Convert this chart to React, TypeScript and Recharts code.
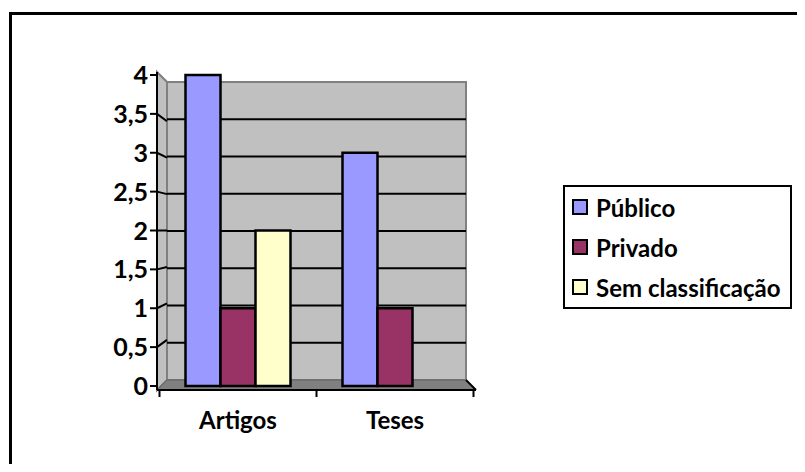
import React from 'react';
import { BarChart, Bar, XAxis, YAxis, CartesianGrid, Legend } from 'recharts';

// Values
const categories = ['Artigos', 'Teses'];
const publico = [4, 3];
const privado = [1, 1];
const semClassificacao = [2, 0];
const yTicks = [0, 0.5, 1, 1.5, 2, 2.5, 3, 3.5, 4];
const gridTicks = [0.5, 1, 1.5, 2, 2.5, 3, 3.5];
// fractions of the category axis: band edges get tick marks, band centres carry the labels
const xTicks = [0, 0.25, 0.5, 0.75, 1];
const seriesOrder = ['publico', 'privado', 'sem'];

const data = categories.map((name, i) => ({
  name,
  publico: publico[i],
  privado: privado[i],
  sem: semClassificacao[i],
}));

const W = 789;
const H = 456;

// 3D box corners (chart coords): front plane = axes, back plane = wall
const FRONT_LEFT = 149;
const FRONT_RIGHT = 468;
const FRONT_TOP = 64;
const FRONT_BOTTOM = 382;
const WALL_LEFT = 159;
const WALL_RIGHT = 458;
const BACK_TOP = 74;
const BACK_BOTTOM = 372;

const FONT = 'Lato, "Open Sans", sans-serif';

const fmt = (v: number) => String(v).replace('.', ',');

function YTick(props: any) {
  const { x, y, payload } = props;
  const v = payload.value;
  const backY =
    BACK_BOTTOM -
    ((FRONT_BOTTOM - y) * (BACK_BOTTOM - BACK_TOP)) / (FRONT_BOTTOM - FRONT_TOP);
  return (
    <g>
      {v > 0 && v < 4 && (
        <line x1={FRONT_LEFT} y1={y} x2={WALL_LEFT} y2={backY} stroke="#000" strokeWidth={2} />
      )}
      <text
        x={x}
        y={y}
        dy="0.36em"
        textAnchor="end"
        fontFamily={FONT}
        fontWeight={700}
        fontSize={25}
        fill="#000"
      >
        {fmt(v)}
      </text>
    </g>
  );
}

function XTick(props: any) {
  const { x, y, payload } = props;
  const pos = payload.value * categories.length;
  if (Number.isInteger(pos)) {
    return <line x1={x} y1={y} x2={x} y2={y + 7} stroke="#000" strokeWidth={2} />;
  }
  return (
    <text
      x={x}
      y={y + 39}
      textAnchor="middle"
      fontFamily={FONT}
      fontWeight={700}
      fontSize={24}
      fill="#000"
    >
      {categories[Math.floor(pos)]}
    </text>
  );
}

function LegendBox(props: any) {
  const { payload } = props;
  return (
    <div
      style={{
        border: '2px solid #000',
        background: '#fff',
        padding: '0 9px 0 7px',
        fontFamily: FONT,
        fontWeight: 700,
        fontSize: 24,
        color: '#000',
      }}
    >
      {(payload || []).map((entry: any) => (
        <div key={entry.value} style={{ height: 40, display: 'flex', alignItems: 'center' }}>
          <span
            style={{
              display: 'inline-block',
              width: 16,
              height: 16,
              boxSizing: 'border-box',
              border: '2px solid #000',
              background: entry.color,
              marginRight: 8,
            }}
          />
          <span style={{ whiteSpace: 'nowrap' }}>{entry.value}</span>
        </div>
      ))}
    </div>
  );
}

function Walls() {
  return (
    <svg width={W} height={H} style={{ position: 'absolute', left: 0, top: 0 }}>
      <rect
        x={WALL_LEFT}
        y={BACK_TOP}
        width={WALL_RIGHT - WALL_LEFT}
        height={BACK_BOTTOM - BACK_TOP}
        fill="#c0c0c0"
        stroke="#808080"
        strokeWidth={2}
      />
      <polygon
        points={`${FRONT_LEFT},${FRONT_TOP} ${WALL_LEFT},${BACK_TOP} ${WALL_LEFT},${BACK_BOTTOM} ${FRONT_LEFT},${FRONT_BOTTOM}`}
        fill="#c0c0c0"
        stroke="#808080"
        strokeWidth={2}
      />
      <polygon
        points={`${FRONT_LEFT},${FRONT_BOTTOM} ${WALL_LEFT},${BACK_BOTTOM} ${WALL_RIGHT},${BACK_BOTTOM} ${FRONT_RIGHT},${FRONT_BOTTOM}`}
        fill="#808080"
        stroke="#606060"
        strokeWidth={1}
      />
      <line
        x1={WALL_RIGHT}
        y1={BACK_BOTTOM}
        x2={FRONT_RIGHT}
        y2={FRONT_BOTTOM}
        stroke="#000"
        strokeWidth={2}
      />
    </svg>
  );
}

export default function App() {
  return (
    <div style={{ position: 'relative', width: W, height: H, overflow: 'hidden', background: '#fff' }}>
      <div
        style={{
          position: 'absolute',
          left: 1,
          top: 4,
          width: 900,
          height: 600,
          border: '3px solid #000',
        }}
      />
      <Walls />
      <div style={{ position: 'absolute', left: 0, top: 0 }}>
        <BarChart
          width={W}
          height={H}
          data={data}
          margin={{ top: FRONT_TOP, right: W - FRONT_RIGHT, bottom: H - FRONT_BOTTOM - 41, left: 0 }}
          barCategoryGap={26}
          barGap={0}
        >
          <CartesianGrid
            yAxisId="back"
            xAxisId="cat"
            vertical={false}
            syncWithTicks
            stroke="#000"
            strokeWidth={2}
            fill="none"
            x={WALL_LEFT}
            width={WALL_RIGHT - WALL_LEFT}
          />
          <XAxis
            xAxisId="cat"
            dataKey="name"
            hide
            height={0}
            padding={{ left: 2.5, right: 2.5 }}
          />
          <XAxis
            xAxisId="edges"
            type="number"
            domain={[0, 1]}
            allowDataOverflow
            ticks={xTicks}
            interval={0}
            padding={{ left: 2.5, right: 2.5 }}
            height={41}
            tickSize={0}
            tickMargin={0}
            tickLine={false}
            axisLine={{ stroke: '#000', strokeWidth: 2 }}
            tick={<XTick />}
          />
          <YAxis
            yAxisId="bars"
            type="number"
            domain={[-0.0514, 4.0386]}
            allowDataOverflow
            ticks={yTicks}
            interval={0}
            width={FRONT_LEFT}
            tickSize={7}
            tickMargin={2}
            axisLine={{ stroke: '#000', strokeWidth: 2 }}
            tickLine={{ stroke: '#000', strokeWidth: 2 }}
            tick={<YTick />}
          />
          <YAxis
            yAxisId="back"
            type="number"
            hide
            width={0}
            domain={[-0.1342, 4.1342]}
            ticks={gridTicks}
            allowDataOverflow
          />
          <Legend
            layout="vertical"
            align="center"
            verticalAlign="middle"
            itemSorter={(item: any) => seriesOrder.indexOf(item.dataKey)}
            wrapperStyle={{ left: 555, top: 177, width: 'auto' }}
            content={<LegendBox />}
          />
          <Bar dataKey="publico" name="Público" xAxisId="cat" yAxisId="bars" fill="#9999ff" stroke="#000" strokeWidth={2.5} isAnimationActive={false} />
          <Bar dataKey="privado" name="Privado" xAxisId="cat" yAxisId="bars" fill="#993366" stroke="#000" strokeWidth={2.5} isAnimationActive={false} />
          <Bar dataKey="sem" name="Sem classificação" xAxisId="cat" yAxisId="bars" fill="#ffffcc" stroke="#000" strokeWidth={2.5} isAnimationActive={false} />
        </BarChart>
      </div>
    </div>
  );
}
